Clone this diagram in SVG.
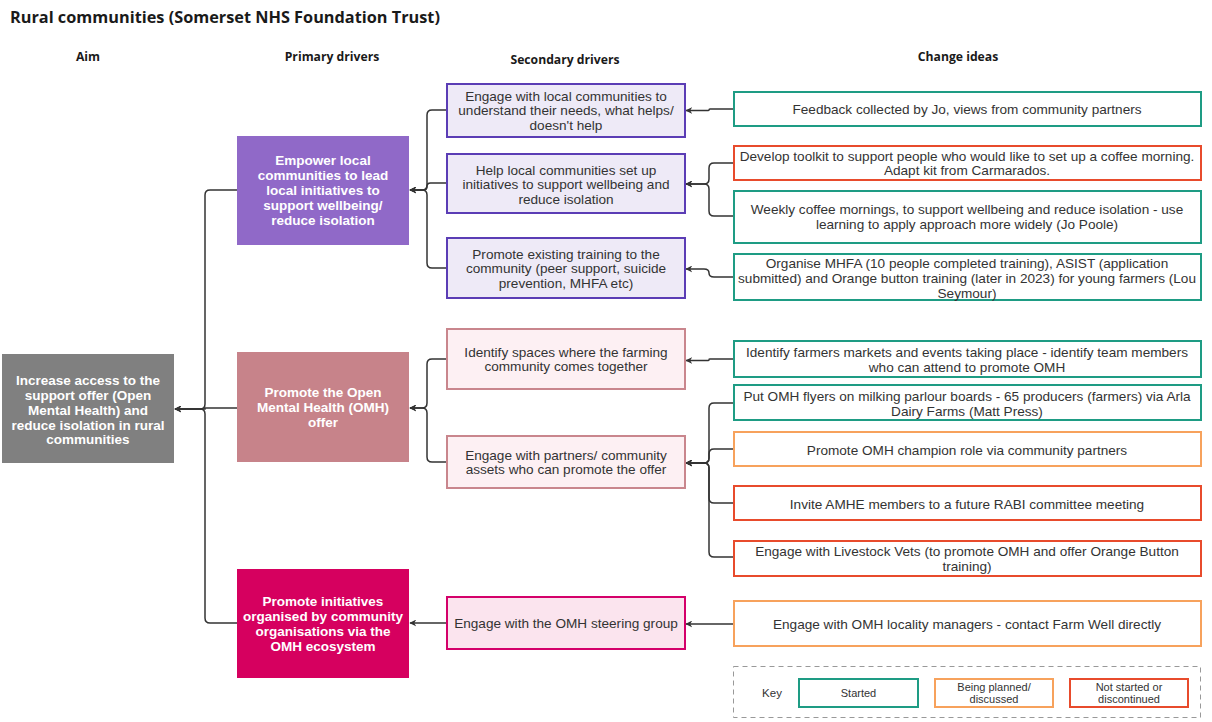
<svg xmlns="http://www.w3.org/2000/svg" width="1212" height="722" viewBox="0 0 1212 722">
<style>
.title{font-family:"Open Sans","Liberation Sans",sans-serif;font-weight:700;font-size:16.3px;fill:#1a1a1a}
.hdr{font-family:"Open Sans","Liberation Sans",sans-serif;font-weight:700;font-size:12.2px;fill:#1a1a1a;text-anchor:middle}
.wt{font-family:"Liberation Sans",Arial,sans-serif;font-weight:700;font-size:13.5px;fill:#ffffff;text-anchor:middle}
.tx{font-family:"Liberation Sans",Arial,sans-serif;font-size:13.6px;fill:#333333;text-anchor:middle}
.lg{font-family:"Liberation Sans",Arial,sans-serif;font-size:11px;fill:#333333;text-anchor:middle}
.sp{fill:#eeeaf7;stroke:#5b3db5;stroke-width:2}
.sr{fill:#fdf0f3;stroke:#c9868d;stroke-width:2}
.sm{fill:#fbe4ee;stroke:#d4006a;stroke-width:2}
.cg{fill:#ffffff;stroke:#1e9c84;stroke-width:2}
.co{fill:#ffffff;stroke:#f7a25c;stroke-width:2}
.cr{fill:#ffffff;stroke:#e84b2c;stroke-width:2}
.e{fill:none;stroke:#333333;stroke-width:1.5;marker-end:url(#ah)}
</style>
<defs>
<marker id="ah" viewBox="0 0 10 10" refX="9" refY="5" markerWidth="7" markerHeight="7" markerUnits="userSpaceOnUse" orient="auto">
<path d="M0,0 L10,5 L0,10 L3,5 Z" fill="#333333"/>
</marker>
</defs>
<rect x="0" y="0" width="1212" height="722" fill="#ffffff"/>
<text class="title" x="10" y="23">Rural communities (Somerset NHS Foundation Trust)</text>
<text class="hdr" x="88" y="61">Aim</text>
<text class="hdr" x="332" y="61">Primary drivers</text>
<text class="hdr" x="565" y="64">Secondary drivers</text>
<text class="hdr" x="958" y="61">Change ideas</text>

<g id="connectors">
<path class="e" d="M237,190 H210 Q205,190 205,195 V404 Q205,409 200,409 H175"/>
<path class="e" d="M237,408 H205 V409 H175"/>
<path class="e" d="M237,623 H210 Q205,623 205,618 V414 Q205,409 200,409 H175"/>
<path class="e" d="M446,110 H432 Q427,110 427,115 V185 Q427,190 422,190 H410"/>
<path class="e" d="M446,183 H430.5 Q427,183 427,186.5 V186.5 Q427,190 423.5,190 H410"/>
<path class="e" d="M446,268 H432 Q427,268 427,263 V195 Q427,190 422,190 H410"/>
<path class="e" d="M446,359 H432 Q427,359 427,364 V403 Q427,408 422,408 H410"/>
<path class="e" d="M446,462 H432 Q427,462 427,457 V413 Q427,408 422,408 H410"/>
<path class="e" d="M446,623 H410"/>
<path class="e" d="M733,109 H710 Q709,109 709,110 Q709,110.5 708,110.5 H686"/>
<path class="e" d="M733,163 H714 Q709,163 709,168 V179 Q709,184 704,184 H686"/>
<path class="e" d="M733,216 H714 Q709,216 709,211 V189 Q709,184 704,184 H686"/>
<path class="e" d="M733,277 H714 Q709,277 709,273 Q709,269 704,269 H686"/>
<path class="e" d="M733,359 H710 Q709,359 709,359.7 Q709,360.5 708,360.5 H686"/>
<path class="e" d="M733,403 H714 Q709,403 709,408 V458 Q709,463 704,463 H686"/>
<path class="e" d="M733,449 H714 Q709,449 709,454 V458 Q709,463 704,463 H686"/>
<path class="e" d="M733,503 H714 Q709,503 709,498 V468 Q709,463 704,463 H686"/>
<path class="e" d="M733,557 H714 Q709,557 709,552 V468 Q709,463 704,463 H686"/>
<path class="e" d="M733,624 H686"/>
</g>

<g id="aim">
<rect x="2" y="354" width="172" height="109" fill="#808080"/>
<text class="wt"><tspan x="88" y="384.5">Increase access to the</tspan><tspan x="88" y="399.5">support offer (Open</tspan><tspan x="88" y="414.5">Mental Health) and</tspan><tspan x="88" y="429.5">reduce isolation in rural</tspan><tspan x="88" y="444">communities</tspan></text>
</g>

<g id="p1">
<rect x="237" y="136" width="172" height="109" fill="#9069c8"/>
<text class="wt"><tspan x="323" y="165">Empower local</tspan><tspan x="323" y="180">communities to lead</tspan><tspan x="323" y="195">local initiatives to</tspan><tspan x="323" y="210">support wellbeing/</tspan><tspan x="323" y="224.5">reduce isolation</tspan></text>
</g>
<g id="p2">
<rect x="237" y="352" width="172" height="110" fill="#c7838a"/>
<text class="wt"><tspan x="323" y="397">Promote the Open</tspan><tspan x="323" y="412">Mental Health (OMH)</tspan><tspan x="323" y="426.5">offer</tspan></text>
</g>
<g id="p3">
<rect x="237" y="569" width="172" height="109" fill="#d6005f"/>
<text class="wt"><tspan x="323" y="606">Promote initiatives</tspan><tspan x="323" y="621">organised by community</tspan><tspan x="323" y="635.5">organisations via the</tspan><tspan x="323" y="650.5">OMH ecosystem</tspan></text>
</g>

<g id="s1">
<rect class="sp" x="447" y="84" width="238" height="53"/>
<text class="tx"><tspan x="566" y="101">Engage with local communities to</tspan><tspan x="566" y="115">understand their needs, what helps/</tspan><tspan x="566" y="130">doesn't help</tspan></text>
</g>
<g id="s2">
<rect class="sp" x="447" y="154" width="238" height="59"/>
<text class="tx"><tspan x="566" y="174.5">Help local communities set up</tspan><tspan x="566" y="189">initiatives to support wellbeing and</tspan><tspan x="566" y="203.5">reduce isolation</tspan></text>
</g>
<g id="s3">
<rect class="sp" x="447" y="238" width="238" height="60"/>
<text class="tx"><tspan x="566" y="258.5">Promote existing training to the</tspan><tspan x="566" y="273">community (peer support, suicide</tspan><tspan x="566" y="287.5">prevention, MHFA etc)</tspan></text>
</g>
<g id="s4">
<rect class="sr" x="447" y="329" width="238" height="60"/>
<text class="tx"><tspan x="566" y="356.5">Identify spaces where the farming</tspan><tspan x="566" y="371">community comes together</tspan></text>
</g>
<g id="s5">
<rect class="sr" x="447" y="436" width="238" height="52"/>
<text class="tx"><tspan x="566" y="459.5">Engage with partners/ community</tspan><tspan x="566" y="474">assets who can promote the offer</tspan></text>
</g>
<g id="s6">
<rect class="sm" x="447" y="597" width="238" height="52"/>
<text class="tx" x="566" y="628">Engage with the OMH steering group</text>
</g>

<g id="c1">
<rect class="cg" x="734" y="92" width="467" height="34"/>
<text class="tx" x="967" y="114">Feedback collected by Jo, views from community partners</text>
</g>
<g id="c2">
<rect class="cr" x="734" y="146" width="467" height="34"/>
<text class="tx"><tspan x="967" y="160.5">Develop toolkit to support people who would like to set up a coffee morning.</tspan><tspan x="967" y="175">Adapt kit from Carmarados.</tspan></text>
</g>
<g id="c3">
<rect class="cg" x="734" y="191" width="467" height="52"/>
<text class="tx"><tspan x="967" y="214">Weekly coffee mornings, to support wellbeing and reduce isolation - use</tspan><tspan x="967" y="229">learning to apply approach more widely (Jo Poole)</tspan></text>
</g>
<g id="c4">
<rect class="cg" x="734" y="254" width="467" height="46"/>
<text class="tx"><tspan x="967" y="268">Organise MHFA (10 people completed training), ASIST (application</tspan><tspan x="967" y="283">submitted) and Orange button training (later in 2023) for young farmers (Lou</tspan><tspan x="967" y="298">Seymour)</tspan></text>
</g>
<g id="c5">
<rect class="cg" x="734" y="341" width="467" height="36"/>
<text class="tx"><tspan x="967" y="356.5">Identify farmers markets and events taking place - identify team members</tspan><tspan x="967" y="371.5">who can attend to promote OMH</tspan></text>
</g>
<g id="c6">
<rect class="cg" x="734" y="385" width="467" height="35"/>
<text class="tx"><tspan x="967" y="400.5">Put OMH flyers on milking parlour boards - 65 producers (farmers) via Arla</tspan><tspan x="967" y="415.5">Dairy Farms (Matt Press)</tspan></text>
</g>
<g id="c7">
<rect class="co" x="734" y="432" width="467" height="34"/>
<text class="tx" x="967" y="454.5">Promote OMH champion role via community partners</text>
</g>
<g id="c8">
<rect class="cr" x="734" y="486" width="467" height="34"/>
<text class="tx" x="967" y="508.5">Invite AMHE members to a future RABI committee meeting</text>
</g>
<g id="c9">
<rect class="cr" x="734" y="541" width="467" height="35"/>
<text class="tx"><tspan x="967" y="556">Engage with Livestock Vets (to promote OMH and offer Orange Button</tspan><tspan x="967" y="570.5">training)</tspan></text>
</g>
<g id="c10">
<rect class="co" x="734" y="601" width="467" height="45"/>
<text class="tx" x="967" y="628.5">Engage with OMH locality managers - contact Farm Well directly</text>
</g>

<g id="legend">
<rect x="733.5" y="666.5" width="467" height="51" fill="none" stroke="#999999" stroke-width="1" stroke-dasharray="5,4"/>
<text class="lg" x="772" y="697" style="font-size:11.5px">Key</text>
<rect class="cg" x="799" y="679" width="119" height="28"/>
<text class="lg" x="858.5" y="697">Started</text>
<rect class="co" x="935" y="679" width="118" height="28"/>
<text class="lg"><tspan x="994" y="690.5">Being planned/</tspan><tspan x="994" y="703">discussed</tspan></text>
<rect class="cr" x="1070" y="679" width="118" height="28"/>
<text class="lg"><tspan x="1129" y="690.5">Not started or</tspan><tspan x="1129" y="703">discontinued</tspan></text>
</g>
</svg>
